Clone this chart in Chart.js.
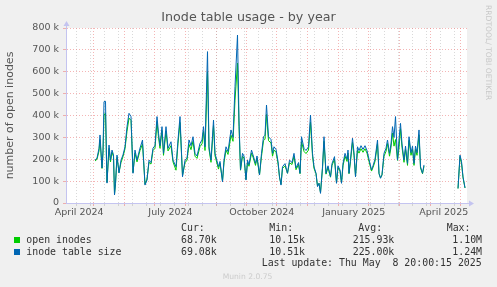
<!DOCTYPE html>
<html lang="en">
<head>
  <meta charset="UTF-8">
  <title>Inode table usage - by year</title>
  <script src="https://cdn.jsdelivr.net/npm/chart.js@4"></script>
  <style>
    body { margin: 0; background: #f0f0f0; }
    #wrap { position: relative; width: 497px; height: 287px; overflow: hidden; font-family: "DejaVu Sans", sans-serif; }
    #wrap canvas { position: absolute; left: 0; top: 0; }
    .t { position: absolute; white-space: pre; line-height: 1; }
    .mono { font-family: "DejaVu Sans Mono", monospace; font-size: 9.9px; color: #333; }
    .sq { position: absolute; width: 6px; height: 6px; }
  </style>
</head>
<body>
<div id="wrap">
  <canvas id="grafico" width="497" height="287"></canvas>

  <div class="t" style="left:248.5px; top:11.3px; transform:translateX(-50%); font-size:12.7px; color:#555;">Inode table usage - by year</div>
  <div class="t" style="left:484px; top:5px; writing-mode:vertical-rl; font-size:7.6px; color:#c8c8c8;">RRDTOOL/ TOBI OETIKER</div>

  <div class="t mono" style="left:181px; top:222.8px;">Cur:</div>
  <div class="t mono" style="left:269.3px; top:222.8px;">Min:</div>
  <div class="t mono" style="left:358.3px; top:222.8px;">Avg:</div>
  <div class="t mono" style="left:446.7px; top:222.8px;">Max:</div>

  <div class="sq" style="left:14px; top:237px; background:#00cc00;"></div>
  <div class="t mono" style="left:26.3px; top:235px;">open inodes</div>
  <div class="t mono" style="left:181px; top:235px;">68.70k</div>
  <div class="t mono" style="left:269.3px; top:235px;">10.15k</div>
  <div class="t mono" style="left:352.7px; top:235px;">215.93k</div>
  <div class="t mono" style="left:452.3px; top:235px;">1.10M</div>

  <div class="sq" style="left:14px; top:248.5px; background:#0066b3;"></div>
  <div class="t mono" style="left:26.3px; top:246.6px;">inode table size</div>
  <div class="t mono" style="left:181px; top:246.6px;">69.08k</div>
  <div class="t mono" style="left:269.3px; top:246.6px;">10.51k</div>
  <div class="t mono" style="left:352.7px; top:246.6px;">225.00k</div>
  <div class="t mono" style="left:452.3px; top:246.6px;">1.24M</div>

  <div class="t mono" style="left:261.7px; top:258.3px;">Last update: Thu May  8 20:00:15 2025</div>
  <div class="t" style="left:222.7px; top:273px; font-size:7.6px; color:#cccccc;">Munin 2.0.75</div>
</div>

<script>
  // dias desde o inicio do grafico (1 px = 1 dia)
  const days = [
    28, 30, 32, 33, 35, 36, 37, 38.5, 39.5, 40,
    42, 43.5, 45, 46.5, 47.5, 48.5, 50, 52, 54, 56,
    58, 60, 62, 64, 66, 68, 70, 73, 75.5, 78,
    80, 82, 84, 86, 88, 90, 91.5, 93, 95, 96.5,
    99, 101, 104, 106, 109, 111, 113, 115.5, 118, 120,
    122, 124, 126, 128, 130, 133, 135, 136.5, 138, 140.5,
    142, 144, 146.5, 148, 151.5, 153, 155.5, 157, 159, 161,
    164, 166, 168, 170.5, 172, 173.5, 175.5, 177, 179, 180.5,
    182, 184.5, 186, 188.5, 190, 192.5, 194.5, 196.5, 198, 199.5,
    201.5, 204, 205.5, 207, 209, 211, 212.5, 214, 215.5, 218,
    220.5, 222.5, 225, 227, 229, 231.5, 233, 234.5, 237, 239,
    241.5, 243.5, 245.5, 247, 249, 250.5, 252, 253.5, 255.5, 257,
    259, 261, 263.5, 265, 267.5, 269.5, 271, 273, 274.5, 276,
    278, 280, 281, 282, 283.5, 285.5, 287, 288.5, 290.5, 292,
    294, 296, 298, 300, 302, 304.5, 306, 308, 310.5, 312,
    313.5, 315, 317, 319, 320.5, 322.5, 324, 325.5, 327, 328.5,
    330.5, 332, 333.5, 335, 337, 338.5, 340.5, 342, 344, 345.5,
    347, 348.5, 350, 352, 353.5, 355.5, 357, 374, 391, 393,
    394.5, 396, 398
  ];

  // valores em milhares
  const tableSize = [
    196, 205, 250, 311, 160, 240, 463, 465, 200, 91,
    265, 196, 242, 220, 37, 90, 219, 137, 196, 220,
    257, 349, 410, 395, 136, 242, 196, 251, 288, 82,
    105, 196, 185, 251, 262, 395, 319, 262, 349, 227,
    349, 250, 280, 196, 166, 288, 395, 120, 196, 205,
    288, 262, 303, 227, 215, 273, 288, 349, 257, 692,
    257, 196, 379, 227, 166, 190, 97, 196, 257, 235,
    334, 300, 532, 768, 379, 151, 227, 215, 105, 196,
    175, 242, 220, 181, 215, 128, 227, 303, 310, 448,
    303, 290, 227, 257, 245, 190, 120, 82, 166, 180,
    136, 196, 185, 227, 160, 185, 136, 303, 250, 240,
    257, 402, 227, 166, 136, 75, 90, 44, 166, 303,
    136, 170, 120, 180, 212, 90, 170, 151, 90, 180,
    227, 200, 242, 136, 200, 296, 230, 120, 257, 240,
    262, 245, 262, 240, 200, 151, 170, 200, 288, 136,
    113, 130, 227, 250, 288, 227, 270, 349, 300, 395,
    196, 290, 364, 270, 196, 260, 181, 303, 230, 260,
    181, 260, 230, 334, 166, 136, 174, null, 67, 219,
    190, 120, 69
  ];

  const openInodes = [
    192, 200, 238, 290, 158, 228, 400, 412, 190, 95,
    250, 188, 232, 212, 40, 88, 208, 140, 185, 212,
    248, 328, 388, 378, 140, 228, 188, 240, 270, 86,
    110, 186, 178, 240, 250, 372, 300, 250, 332, 218,
    328, 238, 262, 188, 150, 272, 368, 126, 184, 196,
    268, 244, 282, 214, 204, 258, 270, 328, 240, 600,
    245, 186, 355, 216, 155, 182, 100, 185, 242, 222,
    310, 282, 470, 640, 350, 150, 214, 205, 108, 185,
    168, 228, 210, 172, 205, 128, 214, 285, 292, 405,
    285, 275, 214, 242, 232, 182, 118, 86, 158, 170,
    136, 184, 176, 214, 152, 176, 134, 280, 236, 226,
    242, 370, 214, 158, 134, 78, 90, 48, 158, 282,
    132, 162, 118, 172, 200, 92, 162, 146, 92, 170,
    214, 190, 228, 134, 190, 278, 218, 122, 242, 228,
    248, 232, 248, 228, 190, 146, 162, 190, 272, 134,
    115, 128, 214, 236, 272, 214, 255, 320, 260, 290,
    195, 250, 340, 255, 186, 246, 172, 286, 218, 246,
    172, 246, 218, 312, 160, 134, 168, null, 66, 212,
    182, 116, 69
  ];

  const monthLabels = ['April 2024', 'July 2024', 'October 2024', 'January 2025', 'April 2025'];
  const labelDays = [12.2, 103.5, 194.8, 286.8, 376.8];
  const majorDays = [26, 57.3, 87, 118.3, 149, 179.7, 209.7, 240.7, 271, 301, 332, 363, 393];
  const minorDays = [];
  for (let d = 9.3; d < 400; d += 14) minorDays.push(d);
  const xTicks = [...minorDays, ...majorDays, ...labelDays].sort((a, b) => a - b);

  const corVermelha = 'rgba(235, 120, 120, 0.55)';
  const corCinza = 'rgba(170, 170, 170, 0.45)';
  const corEixo = '#c4c4f0';

  Chart.defaults.font.family = '"DejaVu Sans", sans-serif';

  const near = (list, v) => list.findIndex(d => Math.abs(d - v) < 0.01);

  const fundo = {
    id: 'fundo',
    beforeDraw(chart) {
      const { ctx, chartArea: a } = chart;
      ctx.save();
      ctx.fillStyle = '#ffffff';
      ctx.fillRect(a.left, a.top, a.right - a.left, a.bottom - a.top);
      ctx.restore();
    }
  };

  const setas = {
    id: 'setas',
    afterDraw(chart) {
      const { ctx, chartArea: a } = chart;
      ctx.save();
      ctx.strokeStyle = corEixo;
      ctx.fillStyle = corEixo;
      ctx.lineWidth = 1;
      ctx.beginPath();
      ctx.moveTo(a.left - 0.5, a.bottom);
      ctx.lineTo(a.left - 0.5, a.top - 4);
      ctx.moveTo(a.left - 1, a.bottom + 0.5);
      ctx.lineTo(a.right + 3, a.bottom + 0.5);
      ctx.stroke();
      ctx.beginPath();
      ctx.moveTo(a.left - 3.5, a.top - 2);
      ctx.lineTo(a.left + 2.5, a.top - 2);
      ctx.lineTo(a.left - 0.5, a.top - 7);
      ctx.fill();
      ctx.beginPath();
      ctx.moveTo(a.right + 2, a.bottom - 2.5);
      ctx.lineTo(a.right + 2, a.bottom + 3.5);
      ctx.lineTo(a.right + 7, a.bottom + 0.5);
      ctx.fill();
      ctx.restore();
    }
  };

  const grafico = new Chart(document.getElementById('grafico'), {
    type: 'line',
    data: {
      datasets: [
        {
          label: 'inode table size',
          data: days.map((d, i) => ({ x: d, y: tableSize[i] })),
          borderColor: '#0066b3',
          borderWidth: 1,
          pointRadius: 0,
          order: 0
        },
        {
          label: 'open inodes',
          data: days.map((d, i) => ({ x: d, y: openInodes[i] })),
          borderColor: '#00cc00',
          borderWidth: 1,
          pointRadius: 0,
          order: 1
        }
      ]
    },
    options: {
      responsive: false,
      animation: false,
      devicePixelRatio: 1,
      layout: { padding: { left: 0, right: 30, top: 28, bottom: 0 } },
      plugins: {
        legend: { display: false },
        tooltip: { enabled: false }
      },
      scales: {
        x: {
          type: 'linear',
          min: 0,
          max: 400,
          afterBuildTicks: s => { s.ticks = xTicks.map(v => ({ value: v })); },
          afterFit: s => { s.height = 84; },
          ticks: {
            autoSkip: false,
            maxRotation: 0,
            padding: 1,
            color: '#555',
            font: { size: 9.5 },
            callback: v => {
              const i = near(labelDays, v);
              return i >= 0 ? monthLabels[i] : '';
            }
          },
          grid: {
            tickLength: 3,
            color: ctx => {
              const v = ctx.tick ? ctx.tick.value : -1;
              if (near(majorDays, v) >= 0) return corVermelha;
              if (near(minorDays, v) >= 0) return corCinza;
              return 'rgba(0,0,0,0)';
            }
          },
          border: { display: false, dash: [1, 2] }
        },
        y: {
          min: 0,
          max: 800,
          afterFit: s => { s.width = 67; },
          ticks: {
            stepSize: 50,
            padding: 4,
            color: '#555',
            font: { size: 9.5 },
            callback: v => v % 100 === 0 ? (v === 0 ? '0' : v + ' k') : ''
          },
          grid: {
            tickLength: 4,
            color: ctx => (ctx.tick && ctx.tick.value % 100 === 0) ? corVermelha : corCinza
          },
          border: { display: false, dash: [1, 2] },
          title: {
            display: true,
            text: 'number of open inodes',
            color: '#555',
            font: { size: 11 },
            padding: { top: 4, bottom: 0 }
          }
        }
      }
    },
    plugins: [fundo, setas]
  });
</script>
</body>
</html>
